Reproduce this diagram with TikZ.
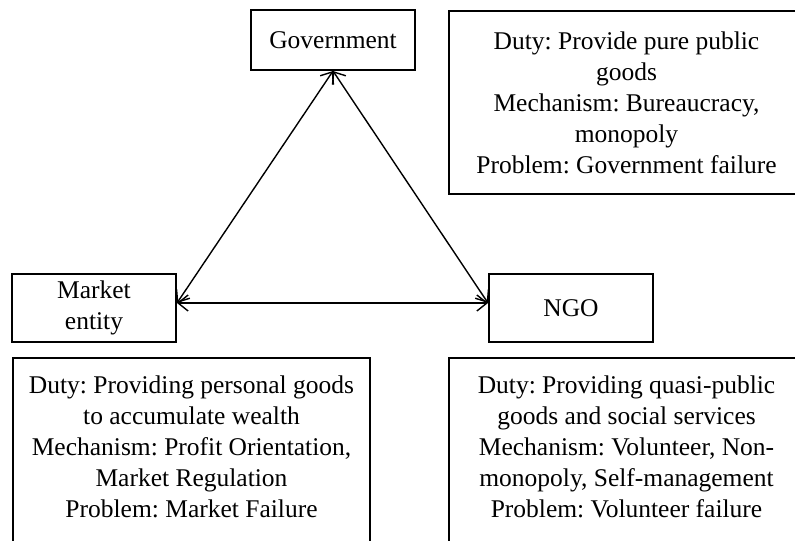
\documentclass[tikz,border=0pt]{standalone}
\usepackage{fontspec}
\setmainfont{Liberation Serif}
\usepackage{tikz}
\usetikzlibrary{positioning}
\usetikzlibrary{arrows.meta}
\frenchspacing

\begin{document}
\begin{tikzpicture}[x=0.5pt, y=-0.5pt,
    actor/.style={draw, line width=1pt, minimum width=82pt, minimum height=34pt, inner sep=0pt, align=center},
    infobox/.style={draw, line width=1pt, inner sep=0pt, anchor=north west, align=center},
    infotext/.style={align=center, inner sep=0pt},
    link/.style={line width=0.7pt, {Straight Barb[length=5pt,width=8pt]}-{Straight Barb[length=5pt,width=8pt]}}]
    \fontsize{12.75pt}{15.5pt}\selectfont
    \clip (0,0) rectangle (795,540);
    \fill[white] (0,0) rectangle (795,540);

    % Actores
    \node[actor, minimum height=30pt] (gov) at (333,40) {Government};
    \node[actor] (market) at (94,308) {Market\\entity};
    \node[actor] (ngo) at (571,308) {NGO};

    % Relaciones
    \draw[link] (gov.south) -- ([yshift=2.5pt]market.east);
    \draw[link] (gov.south) -- ([yshift=2.5pt]ngo.west);
    \draw[link] ([yshift=2.5pt]market.east) -- ([yshift=2.5pt]ngo.west);

    % Cuadros de descripcion
    \node[infobox, minimum width=177.5pt, minimum height=91.5pt] (govinfo) at (448,10)
        {Duty: Provide pure public\\goods\\Mechanism: Bureaucracy,\\monopoly\\Problem: Government failure};

    \node[infobox, minimum width=178.5pt, minimum height=100pt] (marketinfo) at (12,357) {};
    \node[infotext] (markettext) at ([yshift=-45pt]marketinfo.north)
        {Duty: Providing personal goods\\to accumulate wealth\\Mechanism: Profit Orientation,\\Market Regulation\\Problem: Market Failure};

    \node[infobox, minimum width=177.5pt, minimum height=100pt] (ngoinfo) at (448,357) {};
    \node[infotext] (ngotext) at ([yshift=-45pt]ngoinfo.north)
        {Duty: Providing quasi-public\\goods and social services\\Mechanism: Volunteer, Non-\\monopoly, Self-management\\Problem: Volunteer failure};

\end{tikzpicture}
\end{document}
